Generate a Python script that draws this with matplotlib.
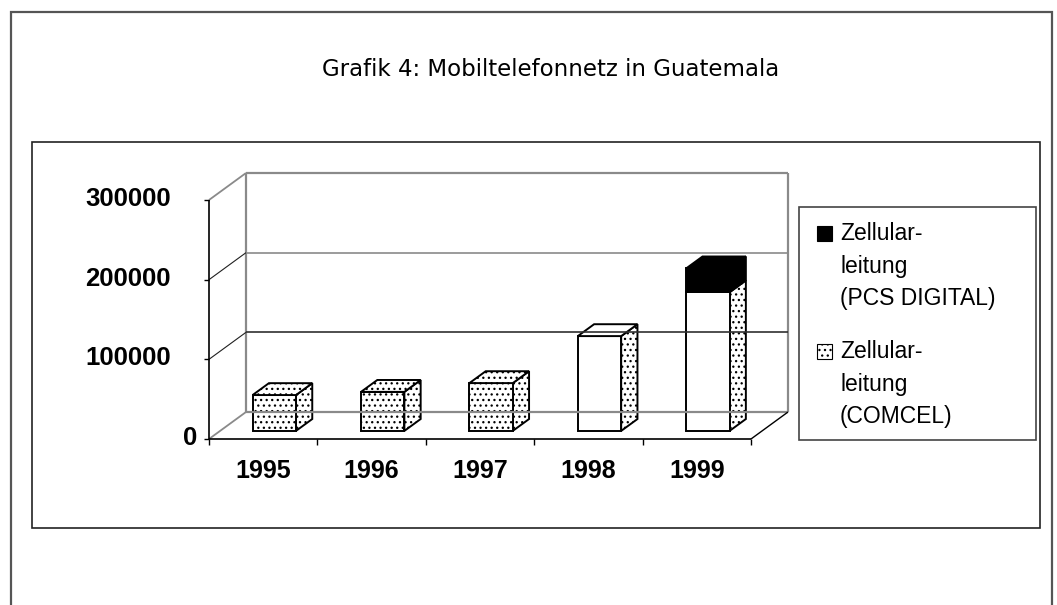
import matplotlib
matplotlib.use('Agg')
import matplotlib.pyplot as plt
from matplotlib.patches import Polygon, Rectangle
from matplotlib.lines import Line2D
from matplotlib.transforms import IdentityTransform

# data
years = ['1995', '1996', '1997', '1998', '1999']
comcel = [45000, 49000, 60000, 119000, 174000]
pcs_digital = [0, 0, 0, 0, 30000]
y_ticks = [0, 100000, 200000, 300000]
title = 'Grafik 4: Mobiltelefonnetz in Guatemala'
legend_labels = ['Zellular-\nleitung\n(PCS DIGITAL)', 'Zellular-\nleitung\n(COMCEL)']

W, H = 1057, 605
DX, DY = 37, 27          # depth of the 3d floor in pixels
BAR_D0, BAR_D1 = 0.3, 0.74
BAR_W = 0.4
GRAY = '#8a8a8a'

plt.rcParams['hatch.linewidth'] = 0.9
fig = plt.figure(figsize=(W / 100, H / 100), dpi=100)


def fig_rect(x0, y0, x1, y1, **kw):
    # pixel coords with origin top-left
    r = Rectangle((x0 / W, 1 - y1 / H), (x1 - x0) / W, (y1 - y0) / H,
                  transform=fig.transFigure, **kw)
    fig.patches.append(r)
    return r


fig_rect(11, 12, 1052, 640, fill=False, edgecolor='#555555', lw=1.6)
fig_rect(32, 142, 1040, 528, fill=False, edgecolor='#222222', lw=1.2)

fig.text(551 / W, 1 - 70 / H, title, ha='center', va='center',
         fontsize=16.5, family='DejaVu Sans')

ax = fig.add_axes([209 / W, 1 - 439 / H, 542 / W, 239 / H])
ax.set_xlim(0, len(years))
ax.set_ylim(0, y_ticks[-1])
ax.axis('off')

ID = IdentityTransform()


def to_px(x, y, d):
    px, py = ax.transData.transform((x, y))
    return (px + d * DX, py + d * DY)


def line(p, q, color='black', lw=1.0):
    ax.add_line(Line2D([p[0], q[0]], [p[1], q[1]], color=color, lw=lw,
                       transform=ID, clip_on=False, solid_capstyle='butt'))


def poly(pts, face, hatch=None):
    ax.add_patch(Polygon(pts, closed=True, facecolor=face, edgecolor='black',
                         lw=1.4, hatch=hatch, transform=ID, clip_on=False,
                         joinstyle='miter'))


n = len(years)
ymax = y_ticks[-1]

# back wall and side wall
line(to_px(0, 0, 1), to_px(0, ymax, 1), GRAY, 1.6)
line(to_px(n, 0, 1), to_px(n, ymax, 1), GRAY, 1.6)
for t in y_ticks:
    c = GRAY if t in (0, ymax) else '#202020'
    gc = '#303030' if t == 100000 else GRAY
    line(to_px(0, t, 1), to_px(n, t, 1), gc, 1.6 if t in (0, ymax) else 1.2)
    line(to_px(0, t, 0), to_px(0, t, 1), c, 1.3 if t in (0, ymax) else 0.8)

# floor edges
line(to_px(n, 0, 0), to_px(n, 0, 1), 'black', 1.0)

# bars
dot = '...'
for i in range(n):
    x0, x1 = i + 0.5 - BAR_W / 2, i + 0.5 + BAR_W / 2
    segs = [(0, comcel[i], 'white', i < 3)]
    if pcs_digital[i] > 0:
        segs.append((comcel[i], comcel[i] + pcs_digital[i], 'black', False))
    for k, (y0, y1, face, front_dots) in enumerate(segs):
        side = [to_px(x1, y0, BAR_D0), to_px(x1, y0, BAR_D1),
                to_px(x1, y1, BAR_D1), to_px(x1, y1, BAR_D0)]
        front = [to_px(x0, y0, BAR_D0), to_px(x1, y0, BAR_D0),
                 to_px(x1, y1, BAR_D0), to_px(x0, y1, BAR_D0)]
        top = [to_px(x0, y1, BAR_D0), to_px(x1, y1, BAR_D0),
               to_px(x1, y1, BAR_D1), to_px(x0, y1, BAR_D1)]
        poly(side, face, None if face == 'black' else dot)
        poly(front, face, dot if front_dots else None)
        if k == len(segs) - 1:
            poly(top, face, dot if front_dots else None)

# front axes
line(to_px(0, 0, 0), to_px(0, ymax, 0), 'black', 1.2)
line(to_px(0, 0, 0), to_px(n, 0, 0), 'black', 1.2)
for t in y_ticks:
    p = to_px(0, t, 0)
    line((p[0] - 5, p[1]), p, 'black', 1.0)
    pad = 12 if t == 0 else 38
    ax.text(p[0] - pad, p[1] + 1, str(t), ha='right', va='center',
            fontsize=18.5, fontweight='bold', family='Liberation Sans',
            transform=ID)
for i in range(n + 1):
    p = to_px(i, 0, 0)
    line(p, (p[0], p[1] - 6), 'black', 1.0)
for i, yr in enumerate(years):
    p = to_px(i + 0.5, 0, 0)
    ax.text(p[0], p[1] - 32, yr, ha='center', va='center', fontsize=18,
            fontweight='bold', family='Liberation Sans', transform=ID)

# legend
fig_rect(799, 207, 1036, 440, facecolor='white', edgecolor='#444444', lw=1.2)
leg_faces = [('black', None), ('white', dot)]
block_top = [234, 352]
for (face, hatch), label, yt in zip(leg_faces, legend_labels, block_top):
    fig_rect(817, yt - 8, 832, yt + 7, facecolor=face, edgecolor='black',
             lw=0.8, hatch=hatch)
    for j, part in enumerate(label.split('\n')):
        fig.text(840 / W, 1 - (yt + j * 32.5) / H, part, ha='left',
                 va='center', fontsize=16.5, family='Liberation Sans')

fig.savefig('out.png', dpi=100)
